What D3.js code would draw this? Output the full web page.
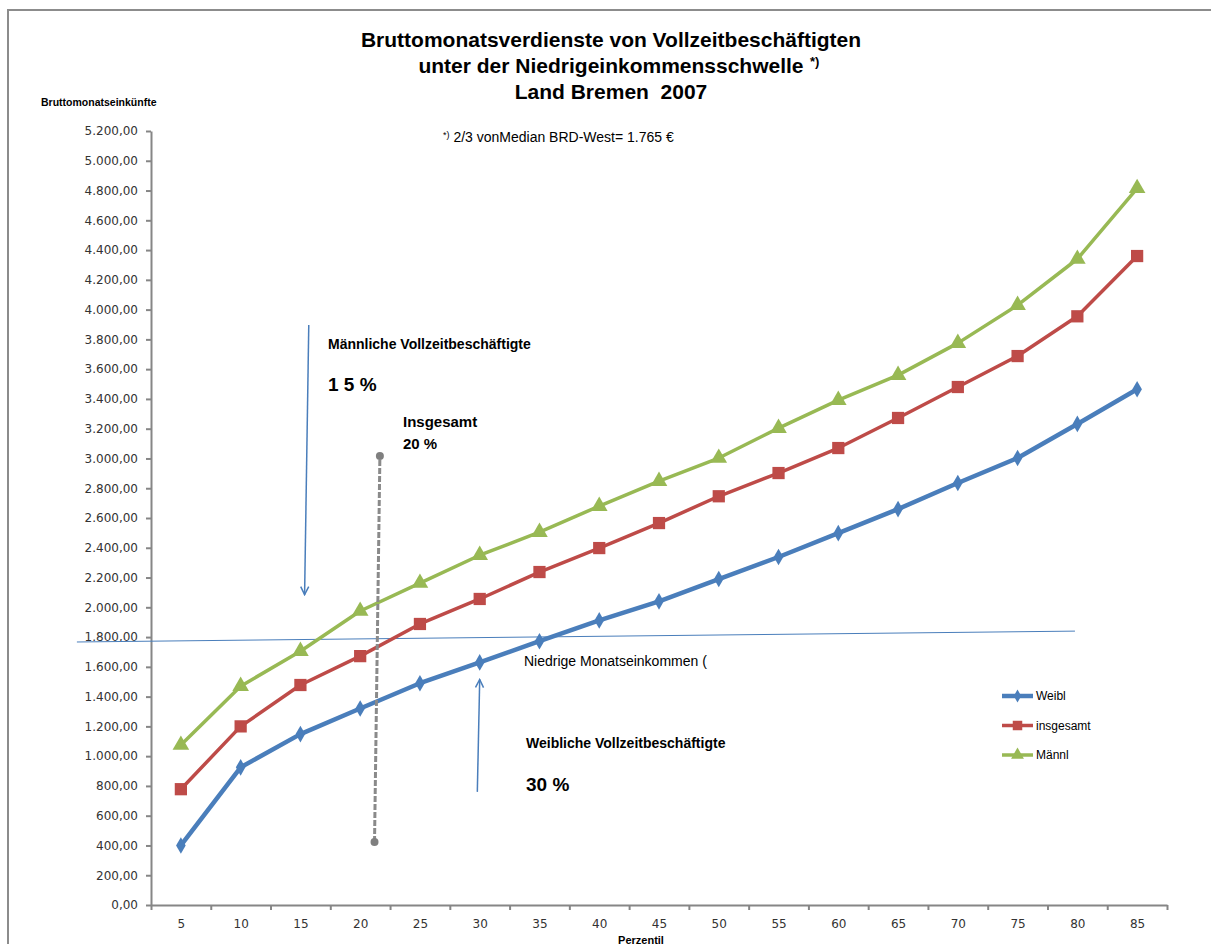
<!DOCTYPE html>
<html>
<head>
<meta charset="utf-8">
<title>Bruttomonatsverdienste Land Bremen 2007</title>
<style>
  body { margin: 0; background: #fff; }
  svg { display: block; }
  .axis path, .axis line { stroke: #868686; }
</style>
<script src="https://cdnjs.cloudflare.com/ajax/libs/d3/7.8.5/d3.min.js"></script>
</head>
<body>
<script>
// Perzentile und Werte
var perzentile = [5, 10, 15, 20, 25, 30, 35, 40, 45, 50, 55, 60, 65, 70, 75, 80, 85];
var weibl = [400, 925, 1148, 1320, 1490, 1630, 1772, 1912, 2040, 2190, 2338, 2498, 2660, 2835, 3003, 3232, 3465];
var insgesamt = [778, 1200, 1478, 1672, 1888, 2056, 2237, 2398, 2566, 2746, 2902, 3070, 3272, 3480, 3688, 3955, 4360];
var maennl = [1075, 1470, 1705, 1975, 2163, 2350, 2505, 2680, 2848, 3003, 3204, 3392, 3560, 3775, 4030, 4340, 4815];
var yTicks = d3.range(0, 5201, 200);

// Schwelle und Hinweise in Datenkoordinaten (Perzentil, Euro)
var schwelle = [[-3.7, 1767], [79.8, 1840]];
var pfeilMaennl = [[15.7, 3897], [15.35, 2085]];
var pfeilWeibl = [[29.8, 760], [30.0, 1515]];
var linieGesamt = [[21.2, 423], [21.65, 3016]];

var schrift = "Liberation Sans, Arial, sans-serif";
var width = 1211, height = 944;
var svg = d3.select("body").append("svg")
  .attr("width", width)
  .attr("height", height)
  .attr("font-family", schrift);

// Rahmen
svg.append("rect")
  .attr("x", 8).attr("y", 10)
  .attr("width", 1230).attr("height", 1000)
  .attr("fill", "none")
  .attr("stroke", "#8c8c8c")
  .attr("stroke-width", 2);

var pLeft = 151, pRight = 1167, pTop = 131, pBottom = 905;
var x = d3.scaleLinear().domain([2.5, 87.5]).range([pLeft, pRight]);
var y = d3.scaleLinear().domain([0, 5200]).range([pBottom, pTop]);

var de = d3.formatLocale({decimal: ",", thousands: ".", grouping: [3], currency: ["", " €"]});
var fmt = de.format(",.2f");

function achsenText(g) {
  g.attr("font-family", "DejaVu Sans, Verdana, sans-serif").attr("font-size", 12);
  g.selectAll("text")
    .attr("font-family", "DejaVu Sans, Verdana, sans-serif")
    .attr("font-size", 12)
    .attr("fill", "#333");
}

// Y-Achse
var yAxis = svg.append("g")
  .attr("class", "axis")
  .attr("transform", "translate(" + pLeft + ",0)")
  .call(d3.axisLeft(y).tickValues(yTicks).tickFormat(fmt).tickSize(5).tickSizeOuter(0).tickPadding(8));
yAxis.select(".domain").attr("stroke-width", 2);
yAxis.selectAll(".tick line").attr("stroke-width", 2);
achsenText(yAxis);

// X-Achse: Striche an den Kategoriegrenzen, Beschriftung in der Mitte
var grenzen = perzentile.map(function(p) { return p - 2.5; }).concat([87.5]);
var xAxis = svg.append("g")
  .attr("class", "axis")
  .attr("transform", "translate(0," + pBottom + ")")
  .call(d3.axisBottom(x).tickValues(grenzen).tickFormat("").tickSize(5).tickSizeOuter(0));
xAxis.select(".domain").attr("stroke-width", 2);
xAxis.selectAll(".tick line").attr("stroke-width", 2);
var xLabels = svg.append("g")
  .attr("class", "axis")
  .attr("transform", "translate(0," + pBottom + ")")
  .call(d3.axisBottom(x).tickValues(perzentile).tickSize(0).tickPadding(14));
xLabels.select(".domain").remove();
achsenText(xLabels);

// Titel
var titel = ["Bruttomonatsverdienste von Vollzeitbeschäftigten", "unter der Niedrigeinkommensschwelle", "Land Bremen\u00a0 2007"];
svg.selectAll(".titel").data(titel).enter().append("text")
  .attr("class", "titel")
  .attr("x", 611)
  .attr("y", function(d, i) { return 47 + i * 26; })
  .attr("text-anchor", "middle")
  .attr("font-size", 21)
  .attr("font-weight", "bold")
  .attr("fill", "#000")
  .text(function(d) { return d; });
svg.append("text")
  .attr("x", 810).attr("y", 66)
  .attr("font-size", 13).attr("font-weight", "bold")
  .text("*)");

svg.append("text")
  .attr("x", 443).attr("y", 142)
  .attr("font-size", 14)
  .html('<tspan font-size="9" dy="-4">*)</tspan><tspan dy="4"> 2/3 vonMedian BRD-West= 1.765 €</tspan>');

svg.append("text")
  .attr("x", 41).attr("y", 106)
  .attr("font-size", 10.5).attr("font-weight", "bold")
  .text("Bruttomonatseinkünfte");

svg.append("text")
  .attr("x", 641).attr("y", 944)
  .attr("text-anchor", "middle")
  .attr("font-size", 11).attr("font-weight", "bold")
  .text("Perzentil");

// Pfeilspitze
svg.append("defs").append("marker")
  .attr("id", "pfeil")
  .attr("viewBox", "0 0 10 10")
  .attr("refX", 9).attr("refY", 5)
  .attr("markerWidth", 10).attr("markerHeight", 10)
  .attr("markerUnits", "userSpaceOnUse")
  .attr("orient", "auto")
  .append("path")
  .attr("d", "M1,1 L9,5 L1,9")
  .attr("fill", "none")
  .attr("stroke", "#4a7ebb")
  .attr("stroke-width", 1.5);

var linie = d3.line().x(function(d) { return x(d[0]); }).y(function(d) { return y(d[1]); });

// Niedrigeinkommensschwelle
svg.append("path")
  .attr("d", linie(schwelle))
  .attr("fill", "none")
  .attr("stroke", "#4a7ebb")
  .attr("stroke-width", 1);

// Datenreihen
var reihen = [
  {name: "Weibl", werte: weibl, farbe: "#4a7ebb", symbol: d3.symbolDiamond, groesse: 80, breite: 4.5},
  {name: "insgesamt", werte: insgesamt, farbe: "#be4b48", symbol: d3.symbolSquare, groesse: 150, breite: 3.5},
  {name: "Männl", werte: maennl, farbe: "#98b954", symbol: d3.symbolTriangle, groesse: 120, breite: 3.5}
];

reihen.forEach(function(r) {
  var punkte = r.werte.map(function(v, i) { return [perzentile[i], v]; });
  svg.append("path")
    .attr("d", linie(punkte))
    .attr("fill", "none")
    .attr("stroke", r.farbe)
    .attr("stroke-width", r.breite)
    .attr("stroke-linejoin", "round");
  svg.selectAll(null).data(punkte).enter().append("path")
    .attr("transform", function(d) { return "translate(" + x(d[0]) + "," + y(d[1]) + ")"; })
    .attr("d", d3.symbol().type(r.symbol).size(r.groesse))
    .attr("fill", r.farbe);
});

// Pfeile
[pfeilMaennl, pfeilWeibl].forEach(function(p) {
  svg.append("path")
    .attr("d", linie(p))
    .attr("fill", "none")
    .attr("stroke", "#4a7ebb")
    .attr("stroke-width", 1.5)
    .attr("marker-end", "url(#pfeil)");
});

// gestrichelte Linie Insgesamt
svg.append("path")
  .attr("d", linie(linieGesamt))
  .attr("fill", "none")
  .attr("stroke", "#8a8a8a")
  .attr("stroke-width", 3)
  .attr("stroke-dasharray", "6,2");
svg.selectAll(null).data(linieGesamt).enter().append("circle")
  .attr("cx", function(d) { return x(d[0]); })
  .attr("cy", function(d) { return y(d[1]); })
  .attr("r", 4)
  .attr("fill", "#7f7f7f");

// Beschriftungen
var texte = [
  {t: "Männliche Vollzeitbeschäftigte", x: 328, y: 349, s: 14, b: true},
  {t: "1 5 %", x: 328, y: 391, s: 19, b: true},
  {t: "Insgesamt", x: 403, y: 427, s: 15, b: true},
  {t: "20 %", x: 403, y: 449, s: 15, b: true},
  {t: "Niedrige Monatseinkommen (", x: 524, y: 666, s: 14, b: false},
  {t: "Weibliche Vollzeitbeschäftigte", x: 526, y: 748, s: 14, b: true},
  {t: "30 %", x: 526, y: 791, s: 19, b: true}
];
svg.selectAll(".anno").data(texte).enter().append("text")
  .attr("class", "anno")
  .attr("x", function(d) { return d.x; })
  .attr("y", function(d) { return d.y; })
  .attr("font-size", function(d) { return d.s; })
  .attr("font-weight", function(d) { return d.b ? "bold" : "normal"; })
  .attr("fill", "#000")
  .text(function(d) { return d.t; });

// Legende
var legende = svg.append("g").attr("transform", "translate(1002,696)");
reihen.forEach(function(r, i) {
  var g = legende.append("g").attr("transform", "translate(0," + (i * 29.5) + ")");
  g.append("line")
    .attr("x1", 0).attr("x2", 31)
    .attr("stroke", r.farbe)
    .attr("stroke-width", r.breite);
  g.append("path")
    .attr("transform", "translate(15.5,0)")
    .attr("d", d3.symbol().type(r.symbol).size(r.groesse * 0.6))
    .attr("fill", r.farbe);
  g.append("text")
    .attr("x", 34).attr("y", 4)
    .attr("font-size", 12)
    .text(r.name);
});
</script>
</body>
</html>
